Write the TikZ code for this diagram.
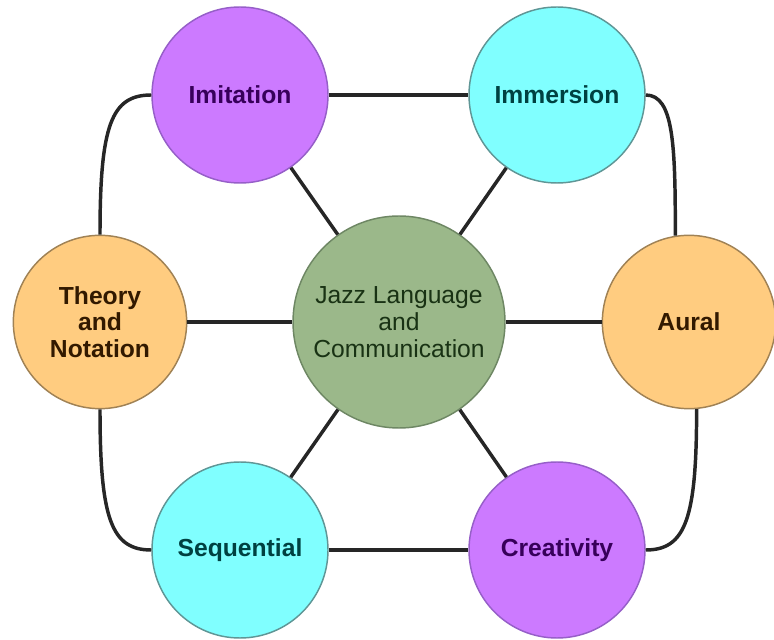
\documentclass[tikz,border=0pt]{standalone}
\usepackage{fontspec}
\setmainfont{Liberation Sans}
\usetikzlibrary{positioning}
\definecolor{lilacfill}{RGB}{204,122,255}
\definecolor{lilacline}{RGB}{150,95,200}
\definecolor{lilactext}{RGB}{55,0,90}
\definecolor{aquafill}{RGB}{128,255,255}
\definecolor{aqualine}{RGB}{95,150,150}
\definecolor{aquatext}{RGB}{0,65,65}
\definecolor{amberfill}{RGB}{255,204,128}
\definecolor{amberline}{RGB}{160,130,85}
\definecolor{ambertext}{RGB}{50,25,0}
\definecolor{sagefill}{RGB}{155,184,138}
\definecolor{sageline}{RGB}{110,135,100}
\definecolor{sagetext}{RGB}{25,50,20}
\tikzset{
    topic/.style={
           circle,
           line width=1.1pt,
           inner sep=0pt,
           align=center,
           minimum size=132pt,
           font=\fontsize{18.5}{20}\selectfont\bfseries,
           },
    lilac/.style={topic, draw=lilacline, fill=lilacfill, text=lilactext},
    aqua/.style={topic, draw=aqualine, fill=aquafill, text=aquatext},
    amber/.style={topic, draw=amberline, fill=amberfill, text=ambertext, minimum size=130pt},
    hub/.style={
           circle,
           line width=1.1pt,
           inner sep=0pt,
           align=center,
           minimum size=159pt,
           draw=sageline, fill=sagefill, text=sagetext,
           font=\fontsize{18.5}{20}\selectfont,
           },
    link/.style={draw=black!85, line width=2.6pt},
    swing/.style={out distance=30pt, in distance=82pt},
}

\begin{document}
\begin{tikzpicture}[x=0.75pt,y=0.75pt]
\useasboundingbox (0,0) rectangle (774,639);
\node[hub] (jazz) at (399,317) {Jazz Language\\and\\Communication};
\node[lilac] (imitation) at (240,544) {Imitation};
\node[aqua] (immersion) at (557,544) {Immersion};
\node[amber] (theory) at (100,317) {Theory\\and\\Notation};
\node[amber] (aural) at (689,317) {Aural};
\node[aqua] (sequential) at (240,89) {Sequential};
\node[lilac] (creativity) at (557,89) {Creativity};
% spokes
\draw[link] (imitation) -- (jazz);
\draw[link] (immersion) -- (jazz);
\draw[link] (sequential) -- (jazz);
\draw[link] (creativity) -- (jazz);
\draw[link] (theory) -- (jazz);
\draw[link] (jazz) -- (aural);
% outer ring
\draw[link] (imitation) -- (immersion);
\draw[link] (sequential) -- (creativity);
\draw[link] (imitation.west) to[out=180, in=90, swing] (theory.north);
\draw[link] (sequential.west) to[out=180, in=-90, swing] (theory.south);
\draw[link] (creativity.east) to[out=0, in=-90, swing] (aural.-85);
\draw[link] (immersion.east) to[out=0, in=90, out distance=21pt, in distance=68pt] (aural.99);
\end{tikzpicture}
\end{document}
